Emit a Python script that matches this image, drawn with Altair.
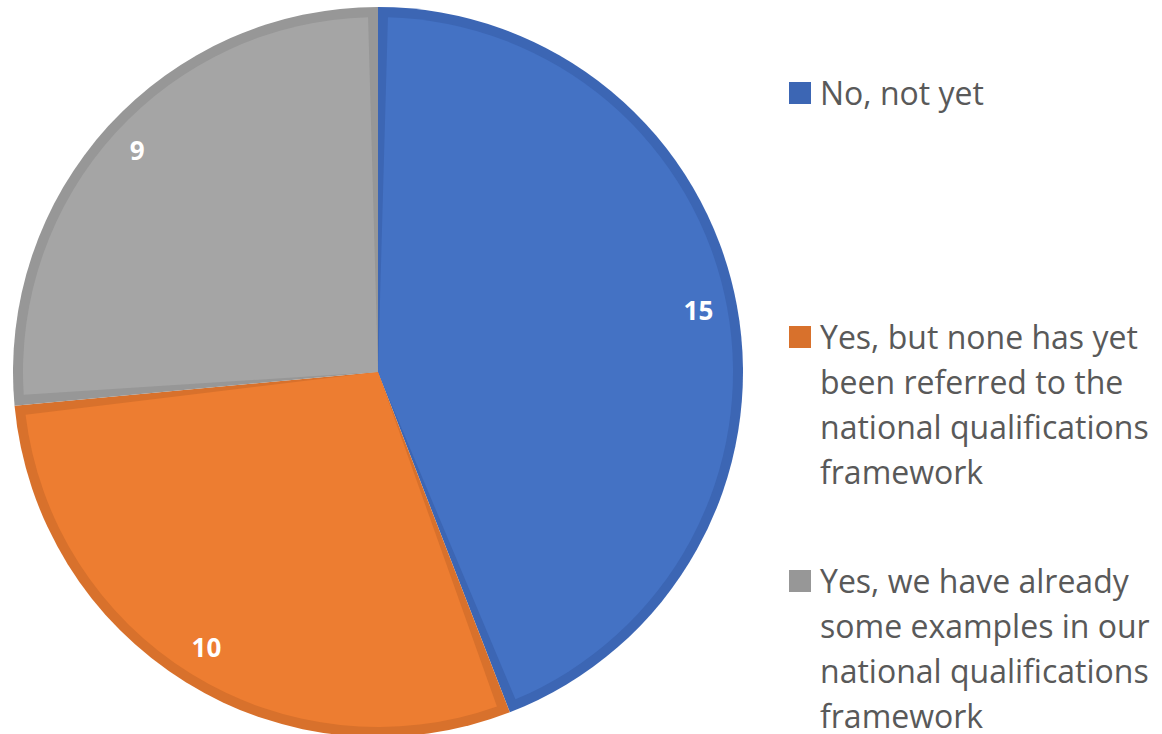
import altair as alt
import pandas as pd

categories = [
    "No, not yet",
    "Yes, but none has yet been referred to the national qualifications framework",
    "Yes, we have already some examples in our national qualifications framework",
]
legend_labels = [
    "No, not yet",
    "Yes, but none has yet|been referred to the|national qualifications|framework",
    "Yes, we have already|some examples in our|national qualifications|framework",
]
values = [15, 10, 9]
order_idx = [0, 1, 2]

fill_colors = ["#4472C4", "#ED7D31", "#A5A5A5"]
border_colors = ["#3C66B4", "#D8712C", "#979797"]

df = pd.DataFrame({
    "category": categories,
    "label": legend_labels,
    "value": values,
    "idx": order_idx,
})

theta = alt.Theta("value:Q", stack=True)
order = alt.Order("idx:Q")

outer = alt.Chart(df).mark_arc(outerRadius=365).encode(
    theta=theta,
    order=order,
    color=alt.Color("category:N", scale=alt.Scale(domain=categories, range=border_colors), legend=None),
)
inner = alt.Chart(df).mark_arc(outerRadius=355, padAngle=0.056).encode(
    theta=theta,
    order=order,
    color=alt.Color("category:N", scale=alt.Scale(domain=categories, range=fill_colors), legend=None),
)
labels = alt.Chart(df).mark_text(
    radius=326, color="white", font="Open Sans", fontSize=26, fontWeight="bold"
).encode(
    theta=theta,
    order=order,
    text="value:Q",
)

pie = alt.layer(outer, inner, labels).resolve_scale(color="independent").properties(width=756, height=744)

yscale = alt.Scale(type="point", domain=categories, range=[80, 568], padding=0)

leg_sq = alt.Chart(df).mark_square(size=484, opacity=1).encode(
    x=alt.value(44),
    y=alt.Y("category:N", scale=yscale, axis=None),
    yOffset=alt.value(13),
    color=alt.Color("category:N", scale=alt.Scale(domain=categories, range=border_colors), legend=None),
)
leg_txt = alt.Chart(df).mark_text(
    align="left", baseline="top", font="Open Sans", fontSize=32, color="#595959",
    lineBreak="|", lineHeight=45,
).encode(
    x=alt.value(64),
    y=alt.Y("category:N", scale=yscale, axis=None),
    text="label:N",
)
legend = alt.layer(leg_sq, leg_txt).properties(width=406, height=734)

chart = alt.hconcat(pie, legend, spacing=0).properties(padding=0).configure_view(stroke=None)

chart.save("out.html", embed_options={"renderer": "svg", "actions": False})
